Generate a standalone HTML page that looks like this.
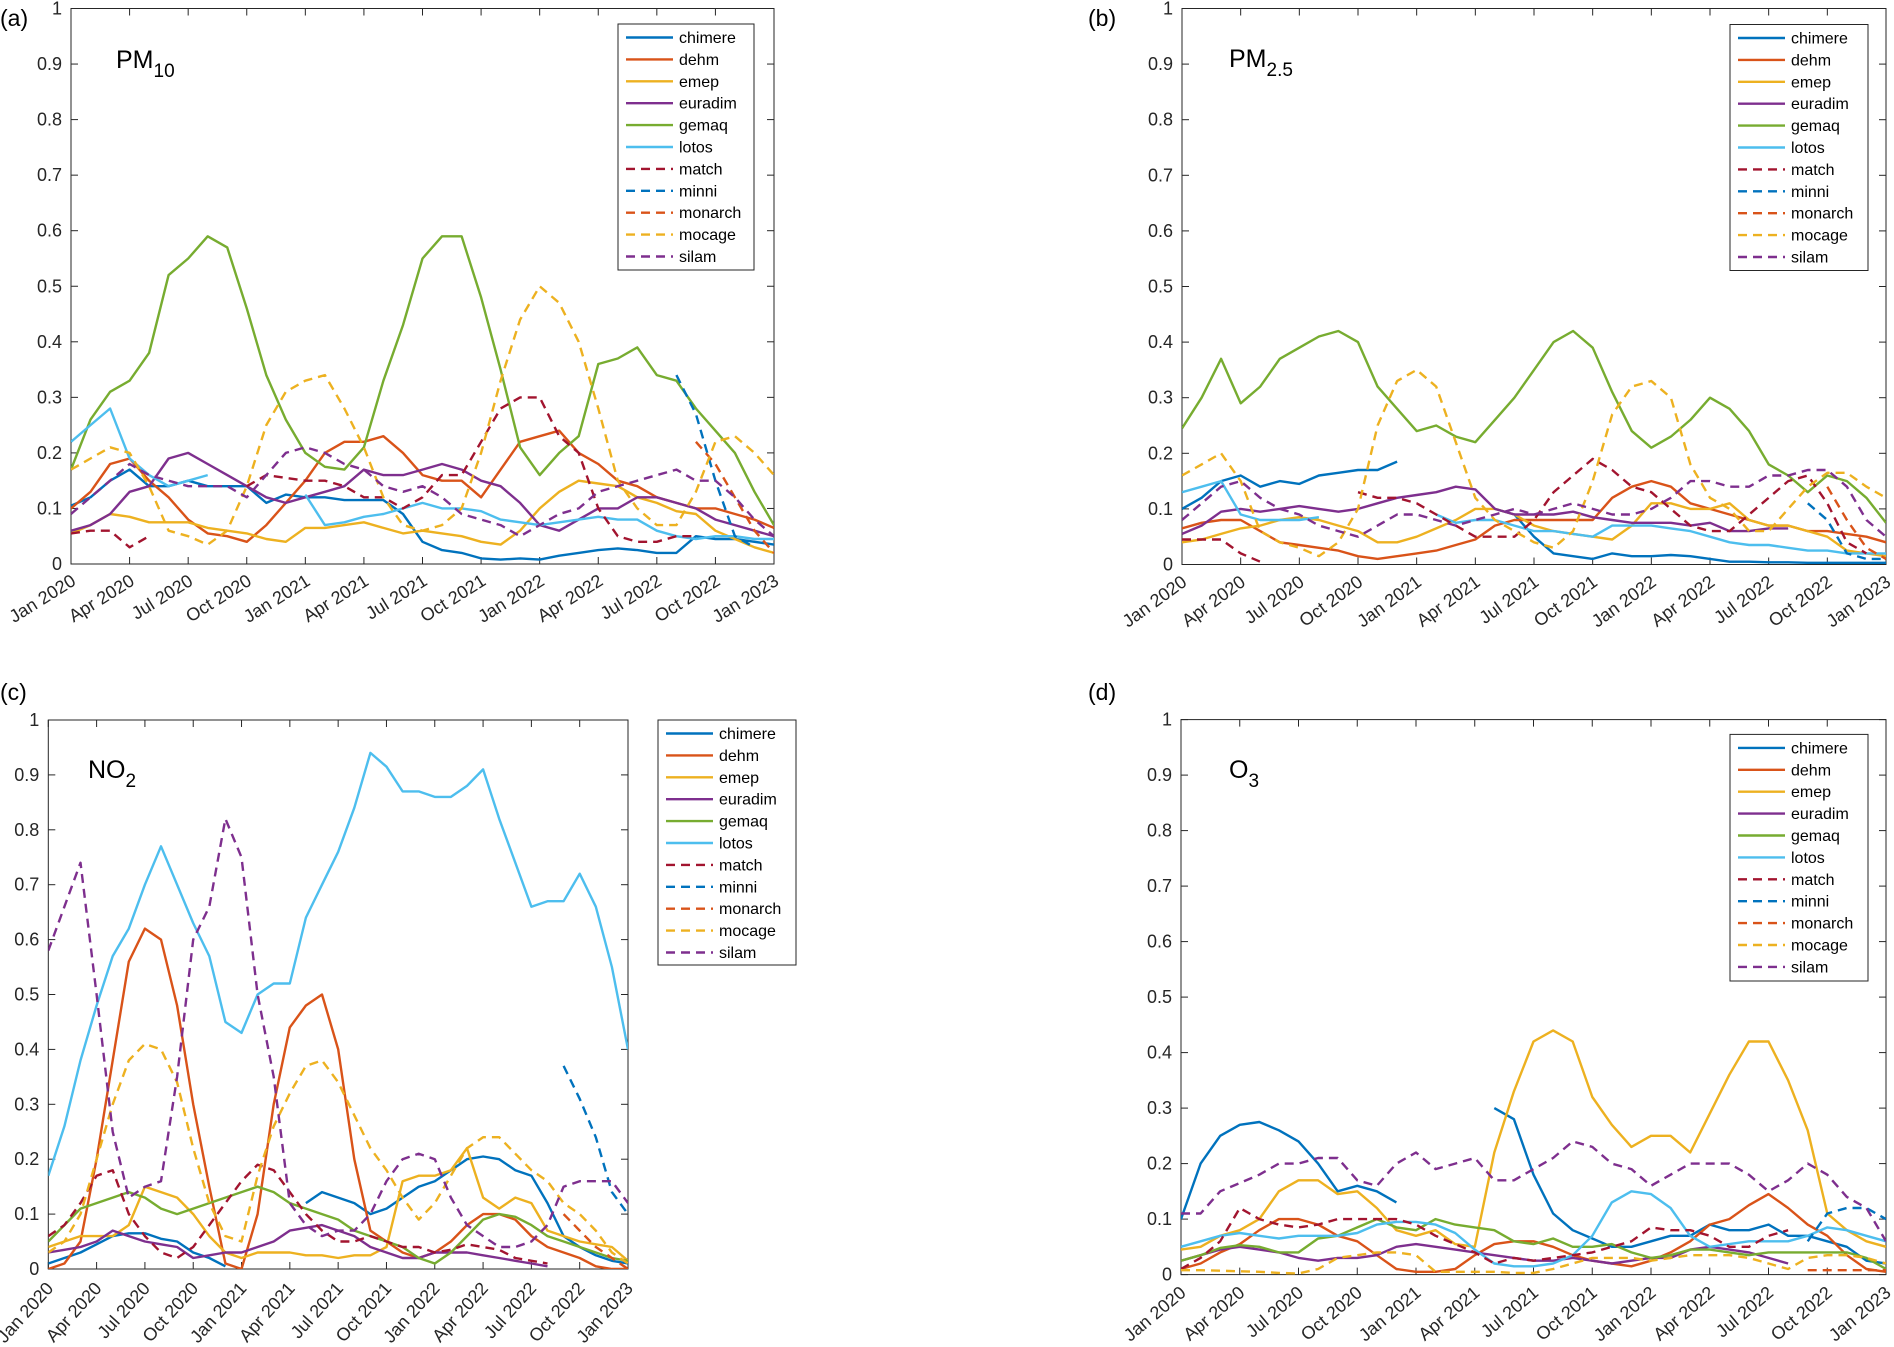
<!DOCTYPE html>
<html><head><meta charset="utf-8">
<style>
html,body{margin:0;padding:0;background:#fff;}
svg{display:block;font-family:"Liberation Sans",Arial,sans-serif;}
</style></head>
<body>
<svg id="fig" width="1894" height="1347" viewBox="0 0 1894 1347" xmlns="http://www.w3.org/2000/svg"></svg>
<script>
// ---------- shared data ----------
const seriesNames = ["chimere","dehm","emep","euradim","gemaq","lotos","match","minni","monarch","mocage","silam"];
const xTickLabels = ["Jan 2020","Apr 2020","Jul 2020","Oct 2020","Jan 2021","Apr 2021","Jul 2021","Oct 2021","Jan 2022","Apr 2022","Jul 2022","Oct 2022","Jan 2023"];
const yTickLabels = ["0","0.1","0.2","0.3","0.4","0.5","0.6","0.7","0.8","0.9","1"];
const yTickValues = [0,0.1,0.2,0.3,0.4,0.5,0.6,0.7,0.8,0.9,1];
const xTickMonths = [0,3,6,9,12,15,18,21,24,27,30,33,36];
// monthly samples, Jan 2020 .. Jan 2023

// (a) PM10
const a_chimere=[0.105,0.12,0.15,0.17,0.14,0.14,0.15,0.14,0.14,0.14,0.11,0.125,0.12,0.12,0.115,0.115,0.115,0.09,0.04,0.025,0.02,0.01,0.008,0.01,0.008,0.015,0.02,0.025,0.028,0.025,0.02,0.02,0.05,0.045,0.045,0.04,0.035];
const a_dehm=[0.1,0.13,0.18,0.19,0.15,0.12,0.08,0.055,0.05,0.04,0.07,0.11,0.15,0.2,0.22,0.22,0.23,0.2,0.16,0.15,0.15,0.12,0.17,0.22,0.23,0.24,0.2,0.18,0.15,0.14,0.12,0.11,0.1,0.1,0.09,0.08,0.065];
const a_emep=[0.055,0.07,0.09,0.085,0.075,0.075,0.075,0.065,0.06,0.055,0.045,0.04,0.065,0.065,0.07,0.075,0.065,0.055,0.06,0.055,0.05,0.04,0.035,0.06,0.1,0.13,0.15,0.145,0.14,0.12,0.11,0.095,0.09,0.06,0.045,0.03,0.02];
const a_euradim=[0.06,0.07,0.09,0.13,0.14,0.19,0.2,0.18,0.16,0.14,0.12,0.11,0.12,0.13,0.14,0.17,0.16,0.16,0.17,0.18,0.17,0.15,0.14,0.11,0.07,0.06,0.08,0.1,0.1,0.12,0.12,0.11,0.1,0.08,0.07,0.06,0.05];
const a_gemaq=[0.17,0.26,0.31,0.33,0.38,0.52,0.55,0.59,0.57,0.46,0.34,0.26,0.2,0.175,0.17,0.21,0.33,0.43,0.55,0.59,0.59,0.48,0.35,0.21,0.16,0.2,0.23,0.36,0.37,0.39,0.34,0.33,0.28,0.24,0.2,0.13,0.07];
const a_lotos=[0.22,0.25,0.28,0.19,0.16,0.14,0.15,0.16,null,null,null,null,0.125,0.07,0.075,0.085,0.09,0.1,0.11,0.1,0.1,0.095,0.08,0.075,0.07,0.075,0.08,0.085,0.08,0.08,0.06,0.05,0.045,0.05,0.05,0.045,0.045];
const a_match=[0.055,0.06,0.06,0.03,0.05,null,null,null,null,0.14,0.16,0.155,0.15,0.15,0.14,0.12,0.12,0.1,0.12,0.16,0.16,0.22,0.28,0.3,0.3,0.23,0.2,0.1,0.05,0.04,0.04,0.05,0.05,null,null,null,null];
const a_minni=[null,null,null,null,null,null,null,null,null,null,null,null,null,null,null,null,null,null,null,null,null,null,null,null,null,null,null,null,null,null,null,0.34,0.27,0.15,0.05,0.03,null];
const a_monarch=[null,null,null,null,null,null,null,null,null,null,null,null,null,null,null,null,null,null,null,null,null,null,null,null,null,null,null,null,null,null,null,null,0.22,0.18,0.12,0.06,0.02];
const a_mocage=[0.17,0.19,0.21,0.2,0.14,0.06,0.05,0.035,0.06,0.14,0.25,0.31,0.33,0.34,0.28,0.21,0.12,0.07,0.06,0.07,0.1,0.2,0.33,0.44,0.5,0.47,0.4,0.28,0.15,0.1,0.07,0.07,0.13,0.22,0.23,0.2,0.16];
const a_silam=[0.09,0.12,0.15,0.18,0.16,0.15,0.14,0.14,0.14,0.12,0.16,0.2,0.21,0.2,0.18,0.17,0.14,0.13,0.14,0.12,0.09,0.08,0.07,0.05,0.07,0.09,0.1,0.13,0.14,0.15,0.16,0.17,0.15,0.15,0.12,0.08,0.05];

// (b) PM2.5
const b_chimere=[0.1,0.12,0.15,0.16,0.14,0.15,0.145,0.16,0.165,0.17,0.17,0.185,null,null,null,null,0.1,0.09,0.05,0.02,0.015,0.01,0.02,0.015,0.015,0.017,0.015,0.01,0.005,0.005,0.004,0.004,0.003,0.003,0.003,0.003,0.003];
const b_dehm=[0.065,0.075,0.08,0.08,0.06,0.04,0.035,0.03,0.025,0.015,0.01,0.015,0.02,0.025,0.035,0.045,0.07,0.08,0.08,0.08,0.08,0.08,0.12,0.14,0.15,0.14,0.11,0.1,0.09,0.08,0.07,0.07,0.06,0.06,0.055,0.05,0.04];
const b_emep=[0.04,0.045,0.055,0.065,0.07,0.08,0.085,0.08,0.07,0.06,0.04,0.04,0.05,0.065,0.08,0.1,0.1,0.09,0.07,0.06,0.055,0.05,0.045,0.07,0.11,0.11,0.1,0.1,0.11,0.08,0.07,0.07,0.06,0.05,0.025,0.02,0.015];
const b_euradim=[0.055,0.07,0.095,0.1,0.095,0.1,0.105,0.1,0.095,0.1,0.11,0.12,0.125,0.13,0.14,0.135,0.1,0.09,0.09,0.09,0.095,0.085,0.08,0.075,0.075,0.075,0.07,0.075,0.06,0.06,0.065,0.065,null,null,null,null,null];
const b_gemaq=[0.245,0.3,0.37,0.29,0.32,0.37,0.39,0.41,0.42,0.4,0.32,0.28,0.24,0.25,0.23,0.22,0.26,0.3,0.35,0.4,0.42,0.39,0.31,0.24,0.21,0.23,0.26,0.3,0.28,0.24,0.18,0.16,0.13,0.16,0.15,0.12,0.075];
const b_lotos=[0.13,0.14,0.15,0.09,0.08,0.08,0.08,0.085,null,null,null,null,null,0.09,0.075,0.08,0.08,0.07,0.06,0.06,0.055,0.05,0.07,0.07,0.07,0.065,0.06,0.05,0.04,0.035,0.035,0.03,0.025,0.025,0.02,0.02,0.02];
const b_match=[0.045,0.045,0.045,0.02,0.005,null,null,null,null,0.13,0.12,0.12,0.11,0.09,0.07,0.05,0.05,0.05,0.08,0.13,0.16,0.19,0.17,0.14,0.13,0.1,0.07,0.06,0.06,0.09,0.12,0.15,0.16,0.11,0.04,0.02,null];
const b_minni=[null,null,null,null,null,null,null,null,null,null,null,null,null,null,null,null,null,null,null,null,null,null,null,null,null,null,null,null,null,null,null,null,0.11,0.08,0.02,0.01,0.01];
const b_monarch=[null,null,null,null,null,null,null,null,null,null,null,null,null,null,null,null,null,null,null,null,null,null,null,null,null,null,null,null,null,null,null,null,null,0.14,0.08,0.03,0.01];
const b_mocage=[0.16,0.18,0.2,0.15,0.06,0.04,0.03,0.015,0.04,0.1,0.25,0.33,0.35,0.32,0.22,0.12,0.08,0.06,0.04,0.03,0.06,0.15,0.27,0.32,0.33,0.3,0.18,0.12,0.1,0.06,0.06,0.1,0.14,0.165,0.165,0.14,0.12];
const b_silam=[0.08,0.11,0.14,0.15,0.12,0.1,0.09,0.07,0.06,0.05,0.07,0.09,0.09,0.08,0.07,0.08,0.09,0.1,0.09,0.1,0.11,0.1,0.09,0.09,0.1,0.12,0.15,0.15,0.14,0.14,0.16,0.16,0.17,0.17,0.14,0.08,0.05];

// (c) NO2
const c_chimere=[0.01,0.02,0.03,0.045,0.06,0.065,0.065,0.055,0.05,0.03,0.02,0.005,null,null,null,null,0.12,0.14,0.13,0.12,0.1,0.11,0.13,0.15,0.16,0.18,0.2,0.205,0.2,0.18,0.17,0.12,0.06,0.04,0.025,0.015,0.01];
const c_dehm=[0,0.01,0.05,0.2,0.38,0.56,0.62,0.6,0.48,0.3,0.15,0.01,0.0,0.1,0.3,0.44,0.48,0.5,0.4,0.2,0.07,0.05,0.03,0.02,0.03,0.05,0.08,0.1,0.1,0.09,0.06,0.04,0.03,0.02,0.005,0,0];
const c_emep=[0.04,0.05,0.06,0.06,0.06,0.08,0.15,0.14,0.13,0.1,0.06,0.03,0.02,0.03,0.03,0.03,0.025,0.025,0.02,0.025,0.025,0.04,0.16,0.17,0.17,0.18,0.22,0.13,0.11,0.13,0.12,0.07,0.06,0.05,0.045,0.04,0.015];
const c_euradim=[0.03,0.035,0.04,0.05,0.07,0.06,0.05,0.045,0.04,0.02,0.025,0.03,0.03,0.04,0.05,0.07,0.075,0.08,0.07,0.06,0.04,0.03,0.02,0.02,0.03,0.03,0.03,0.025,0.02,0.015,0.01,0.005,null,null,null,null,null];
const c_gemaq=[0.05,0.08,0.11,0.12,0.13,0.14,0.13,0.11,0.1,0.11,0.12,0.13,0.14,0.15,0.14,0.12,0.11,0.1,0.09,0.07,0.06,0.05,0.04,0.02,0.01,0.03,0.06,0.09,0.1,0.095,0.08,0.06,0.05,0.04,0.03,0.02,0.015];
const c_lotos=[0.17,0.26,0.38,0.48,0.57,0.62,0.7,0.77,0.7,0.63,0.57,0.45,0.43,0.5,0.52,0.52,0.64,0.7,0.76,0.84,0.94,0.915,0.87,0.87,0.86,0.86,0.88,0.91,0.82,0.74,0.66,0.67,0.67,0.72,0.66,0.55,0.4];
const c_match=[0.06,0.08,0.12,0.17,0.18,0.1,0.06,0.03,0.02,0.04,0.08,0.12,0.16,0.19,0.18,0.14,0.1,0.07,0.05,0.05,0.06,0.05,0.04,0.04,0.03,0.035,0.045,0.04,0.035,0.02,0.015,0.01,null,null,null,null,null];
const c_minni=[null,null,null,null,null,null,null,null,null,null,null,null,null,null,null,null,null,null,null,null,null,null,null,null,null,null,null,null,null,null,null,null,0.37,0.31,0.24,0.14,0.1];
const c_monarch=[null,null,null,null,null,null,null,null,null,null,null,null,null,null,null,null,null,null,null,null,null,null,null,null,null,null,null,null,null,null,null,null,0.1,0.07,0.04,0.02,0.0];
const c_mocage=[0.03,0.05,0.1,0.2,0.3,0.38,0.41,0.4,0.34,0.22,0.12,0.06,0.05,0.17,0.26,0.32,0.37,0.38,0.34,0.28,0.22,0.18,0.13,0.09,0.12,0.17,0.22,0.24,0.24,0.21,0.18,0.16,0.12,0.1,0.07,0.03,0.01];
const c_silam=[0.58,0.66,0.74,0.5,0.25,0.13,0.15,0.16,0.35,0.6,0.66,0.82,0.75,0.5,0.35,0.12,0.08,0.06,0.07,0.07,0.1,0.16,0.2,0.21,0.2,0.13,0.08,0.06,0.04,0.04,0.05,0.08,0.15,0.16,0.16,0.16,0.12];

// (d) O3
const d_chimere=[0.1,0.2,0.25,0.27,0.275,0.26,0.24,0.2,0.15,0.16,0.15,0.13,null,null,null,null,0.3,0.28,0.18,0.11,0.08,0.065,0.05,0.05,0.06,0.07,0.07,0.09,0.08,0.08,0.09,0.07,0.07,0.06,0.05,0.025,0.02];
const d_dehm=[0.01,0.02,0.04,0.055,0.08,0.1,0.1,0.09,0.07,0.06,0.035,0.01,0.005,0.005,0.01,0.035,0.055,0.06,0.06,0.05,0.035,0.025,0.02,0.015,0.025,0.04,0.06,0.09,0.1,0.125,0.145,0.12,0.09,0.07,0.035,0.01,0.005];
const d_emep=[0.045,0.05,0.07,0.08,0.1,0.15,0.17,0.17,0.145,0.15,0.12,0.08,0.07,0.08,0.055,0.05,0.22,0.33,0.42,0.44,0.42,0.32,0.27,0.23,0.25,0.25,0.22,0.29,0.36,0.42,0.42,0.35,0.26,0.11,0.08,0.06,0.05];
const d_euradim=[0.025,0.035,0.045,0.05,0.045,0.04,0.03,0.025,0.03,0.03,0.035,0.05,0.055,0.05,0.045,0.04,0.035,0.03,0.025,0.025,0.03,0.025,0.02,0.025,0.03,0.03,0.045,0.05,0.045,0.04,0.03,0.02,null,null,null,null,null];
const d_gemaq=[0.025,0.035,0.048,0.053,0.05,0.04,0.04,0.065,0.07,0.085,0.1,0.085,0.08,0.1,0.09,0.085,0.08,0.06,0.055,0.065,0.05,0.05,0.055,0.04,0.03,0.035,0.045,0.045,0.04,0.035,0.04,0.04,0.04,0.04,0.04,0.03,0.01];
const d_lotos=[0.05,0.06,0.07,0.075,0.07,0.065,0.07,0.07,0.07,0.075,0.09,0.095,0.095,0.09,0.075,0.045,0.02,0.015,0.015,0.02,0.035,0.07,0.13,0.15,0.145,0.12,0.07,0.05,0.055,0.06,0.06,0.06,0.07,0.085,0.08,0.07,0.06];
const d_match=[0.01,0.03,0.06,0.12,0.1,0.09,0.085,0.09,0.1,0.1,0.1,0.1,0.09,0.07,0.055,0.04,0.02,0.03,0.025,0.03,0.035,0.04,0.05,0.06,0.085,0.08,0.08,0.07,0.05,0.05,0.07,0.08,null,null,null,null,null];
const d_minni=[null,null,null,null,null,null,null,null,null,null,null,null,null,null,null,null,null,null,null,null,null,null,null,null,null,null,null,null,null,null,null,null,0.06,0.11,0.12,0.12,0.1];
const d_monarch=[null,null,null,null,null,null,null,null,null,null,null,null,null,null,null,null,null,null,null,null,null,null,null,null,null,null,null,null,null,null,null,null,0.008,0.008,0.008,0.008,0.008];
const d_mocage=[0.008,0.008,0.007,0.006,0.005,0.003,0.002,0.01,0.03,0.035,0.04,0.04,0.035,0.005,0.005,0.005,0.005,0.003,0.003,0.01,0.02,0.03,0.03,0.03,0.025,0.03,0.035,0.035,0.035,0.03,0.02,0.01,0.03,0.035,0.035,0.03,0.02];
const d_silam=[0.11,0.11,0.15,0.165,0.18,0.2,0.2,0.21,0.21,0.17,0.16,0.2,0.22,0.19,0.2,0.21,0.17,0.17,0.19,0.21,0.24,0.23,0.2,0.19,0.16,0.18,0.2,0.2,0.2,0.18,0.15,0.17,0.2,0.18,0.14,0.12,0.06];

// ---------- styles (not data) ----------
const seriesColors=["#0072BD","#D95319","#EDB120","#7E2F8E","#77AC30","#4DBEEE","#A2142F","#0072BD","#D95319","#EDB120","#7E2F8E"];
const seriesDashed=[false,false,false,false,false,false,true,true,true,true,true];

const panels=[
 {id:"a",label:"(a)",lx:0,ly:26,x0:71,x1:774,yT:8.5,yB:564,rot:32,title:"PM",sub:"10",tx:116,ty:68,
  leg:{x:618,y:24,w:136,h:246},
  data:[a_chimere,a_dehm,a_emep,a_euradim,a_gemaq,a_lotos,a_match,a_minni,a_monarch,a_mocage,a_silam]},
 {id:"b",label:"(b)",lx:1088,ly:26,x0:1182,x1:1886,yT:8.5,yB:564.5,rot:36,title:"PM",sub:"2.5",tx:1229,ty:67,
  leg:{x:1730,y:24.5,w:138,h:246},
  data:[b_chimere,b_dehm,b_emep,b_euradim,b_gemaq,b_lotos,b_match,b_minni,b_monarch,b_mocage,b_silam]},
 {id:"c",label:"(c)",lx:0,ly:700,x0:48.3,x1:628,yT:720,yB:1269,rot:48,title:"NO",sub:"2",tx:88,ty:778,
  leg:{x:658,y:720,w:138,h:245},
  data:[c_chimere,c_dehm,c_emep,c_euradim,c_gemaq,c_lotos,c_match,c_minni,c_monarch,c_mocage,c_silam]},
 {id:"d",label:"(d)",lx:1088,ly:700,x0:1181,x1:1886,yT:719.6,yB:1274.6,rot:40,title:"O",sub:"3",tx:1229,ty:778,
  leg:{x:1730,y:734.4,w:138,h:246.6},
  data:[d_chimere,d_dehm,d_emep,d_euradim,d_gemaq,d_lotos,d_match,d_minni,d_monarch,d_mocage,d_silam]}
];

const NS="http://www.w3.org/2000/svg";
const svg=document.getElementById("fig");
function mk(tag,attrs,parent){const e=document.createElementNS(NS,tag);for(const k in attrs)e.setAttribute(k,attrs[k]);(parent||svg).appendChild(e);return e;}

panels.forEach(p=>{
  const g=mk("g",{});
  
  
  const xS=m=>p.x0+(m/36)*(p.x1-p.x0);
  const yS=v=>p.yB-v*(p.yB-p.yT);

  const pl=mk("text",{x:p.lx,y:p.ly,"font-size":23,fill:"#000"},g);
  pl.textContent=p.label;
  
  

  const box=mk("rect",{x:p.x0,y:p.yT,width:p.x1-p.x0,height:p.yB-p.yT,fill:"#fff",stroke:"#262626","stroke-width":1},g);
  
  

  const yAx=mk("g",{},g);
  
  
  yTickValues.forEach((v,i)=>{
    const y=yS(v);
    mk("line",{x1:p.x0,x2:p.x0+7,y1:y,y2:y,stroke:"#262626","stroke-width":1},yAx);
    mk("line",{x1:p.x1,x2:p.x1-7,y1:y,y2:y,stroke:"#262626","stroke-width":1},yAx);
    const t=mk("text",{x:p.x0-9,y:y+6,"font-size":18,fill:"#262626","text-anchor":"end"},yAx);
    t.textContent=yTickLabels[i];
    
    
  });
  const xAx=mk("g",{},g);
  
  
  xTickMonths.forEach((m,i)=>{
    const x=xS(m);
    mk("line",{x1:x,x2:x,y1:p.yB,y2:p.yB-7,stroke:"#262626","stroke-width":1},xAx);
    mk("line",{x1:x,x2:x,y1:p.yT,y2:p.yT+7,stroke:"#262626","stroke-width":1},xAx);
    const ax=x+6, ay=p.yB+20;
    const t=mk("text",{x:ax,y:ay,"font-size":18,fill:"#262626","text-anchor":"end",transform:`rotate(-${p.rot} ${ax} ${ay})`},xAx);
    t.textContent=xTickLabels[i];
    
    
  });

  const clipId="clip"+p.id;
  const cp=mk("clipPath",{id:clipId},g);
  mk("rect",{x:p.x0,y:p.yT,width:p.x1-p.x0,height:p.yB-p.yT},cp);
  const sg=mk("g",{"clip-path":`url(#${clipId})`},g);
  p.data.forEach((arr,si)=>{
    let d="",pen=false;
    for(let m=0;m<=36;m++){
      const v=arr[m];
      if(v===null||v===undefined){pen=false;continue;}
      d+=(pen?"L":"M")+xS(m).toFixed(1)+" "+yS(v).toFixed(1)+" ";
      pen=true;
    }
    const path=mk("path",{d:d,fill:"none",stroke:seriesColors[si],"stroke-width":2.4,"stroke-linejoin":"round"},sg);
    if(seriesDashed[si])path.setAttribute("stroke-dasharray","9 6");
    
    
  });

  const tt=mk("text",{x:p.tx,y:p.ty,"font-size":25,fill:"#000"},g);
  tt.textContent=p.title;
  
  
  const ts=mk("tspan",{dy:9,"font-size":19},tt);
  ts.textContent=p.sub;

  const L=p.leg;
  const lg=mk("g",{},g);
  
  
  mk("rect",{x:L.x,y:L.y,width:L.w,height:L.h,fill:"#fff",stroke:"#262626","stroke-width":1},lg);
  seriesNames.forEach((n,i)=>{
    const y=L.y+13.5+i*21.9;
    const e=mk("g",{},lg);
    
    
    const ln=mk("line",{x1:L.x+8,x2:L.x+55,y1:y,y2:y,stroke:seriesColors[i],"stroke-width":2.4},e);
    if(seriesDashed[i])ln.setAttribute("stroke-dasharray","9 6");
    const t=mk("text",{x:L.x+61,y:y+5.5,"font-size":16,fill:"#000"},e);
    t.textContent=n;
  });
});
</script>
</body></html>
